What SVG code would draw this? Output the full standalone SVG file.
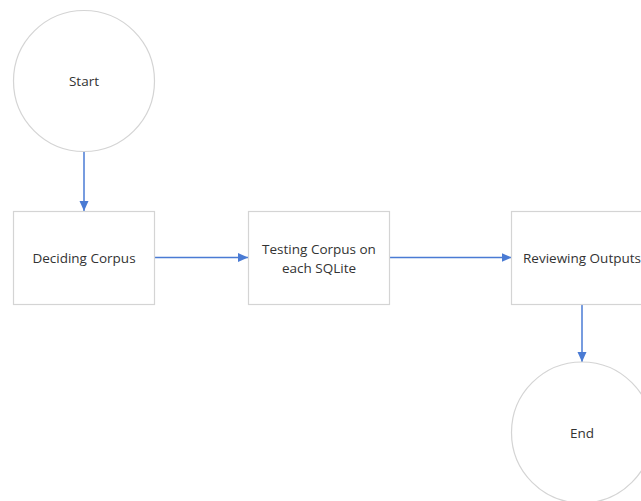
<svg xmlns="http://www.w3.org/2000/svg" width="641" height="501" viewBox="0 0 641 501">
<defs>
<style>
.shape{fill:#ffffff;stroke:#d4d4d4;stroke-width:1.2}
.lbl{font-family:"Open Sans","Noto Sans",sans-serif;font-size:13.5px;fill:#333333;text-anchor:middle;dominant-baseline:central}
.conn{stroke:#4a7bd4;stroke-width:1.5;fill:none;marker-end:url(#ah)}
</style>
<marker id="ah" viewBox="0 0 10 10" refX="10" refY="5" markerUnits="userSpaceOnUse" markerWidth="10" markerHeight="10" orient="auto">
<path d="M0,0.5 L10,5 L0,9.5 Z" fill="#4a7bd4"/>
</marker>
</defs>
<rect width="641" height="501" fill="#ffffff"/>
<g id="connectors">
<line class="conn" x1="84" y1="151.5" x2="84" y2="211"/>
<line class="conn" x1="154.5" y1="257.5" x2="248" y2="257.5"/>
<line class="conn" x1="389.5" y1="257.5" x2="511.5" y2="257.5"/>
<line class="conn" x1="582" y1="304.5" x2="582" y2="362"/>
</g>
<g id="start">
<circle class="shape" cx="84" cy="81" r="70.5"/>
<text class="lbl" x="84" y="81">Start</text>
</g>
<g id="deciding">
<rect class="shape" x="13.5" y="211.5" width="141" height="93"/>
<text class="lbl" x="84" y="257.5">Deciding Corpus</text>
</g>
<g id="testing">
<rect class="shape" x="248.5" y="211.5" width="141" height="93"/>
<text class="lbl" x="319" y="249">Testing Corpus on</text>
<text class="lbl" x="319" y="268">each SQLite</text>
</g>
<g id="reviewing">
<rect class="shape" x="511.5" y="211.5" width="141" height="93"/>
<text class="lbl" x="582" y="257.5">Reviewing Outputs</text>
</g>
<g id="end">
<circle class="shape" cx="582" cy="432.5" r="70.5"/>
<text class="lbl" x="582" y="432.5">End</text>
</g>
</svg>
